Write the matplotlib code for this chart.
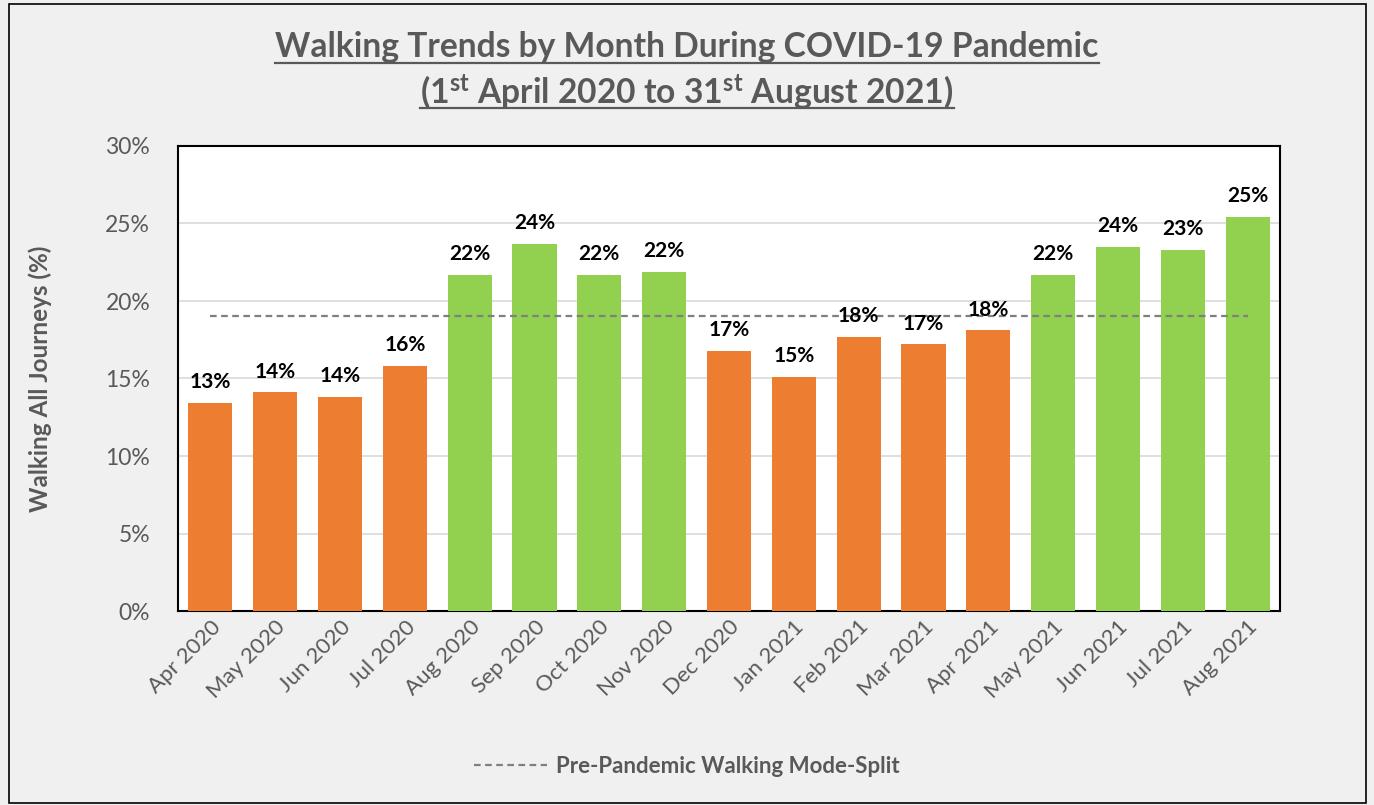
import matplotlib
matplotlib.use("Agg")
import matplotlib.pyplot as plt
from matplotlib.patches import Rectangle
from matplotlib.lines import Line2D
import numpy as np

months = ["Apr 2020", "May 2020", "Jun 2020", "Jul 2020", "Aug 2020", "Sep 2020",
          "Oct 2020", "Nov 2020", "Dec 2020", "Jan 2021", "Feb 2021", "Mar 2021",
          "Apr 2021", "May 2021", "Jun 2021", "Jul 2021", "Aug 2021"]
walking = [13.4, 14.1, 13.8, 15.8, 21.7, 23.7, 21.7, 21.9, 16.8, 15.1, 17.7, 17.2,
           18.1, 21.7, 23.5, 23.3, 25.4]
pre_pandemic = 19.0
above = [v >= pre_pandemic for v in walking]

FONT = "Lato"
GRAY = "#595959"
ORANGE = "#ED7D31"
GREEN = "#92D050"

plt.rcParams['font.family'] = [FONT, 'DejaVu Sans']
plt.rcParams['mathtext.fontset'] = 'custom'
plt.rcParams['mathtext.rm'] = 'Lato:bold'
plt.rcParams['mathtext.default'] = 'rm'

fig = plt.figure(figsize=(13.74, 8.05), dpi=100)
fig.patch.set_facecolor("#f0f0f0")
W, H = 1374, 805
ax = fig.add_axes([178 / W, 1 - 611 / H, (1280 - 178) / W, (611 - 146) / H])
ax.set_facecolor("white")

x = np.arange(len(months))
colors = [GREEN if a else ORANGE for a in above]
ax.bar(x, walking, width=0.68, color=colors, zorder=3)
ax.plot(x, [pre_pandemic] * len(x), linestyle=(0, (3, 2)), color="#7f7f7f", lw=1.6, zorder=4)

for xi, v in zip(x, walking):
    ax.text(xi, v + 0.7, f"{round(v):.0f}%", ha="center", va="bottom",
            fontsize=15, fontweight="bold", color="black", zorder=5)

ax.set_xlim(-0.5, len(months) - 0.5)
ax.set_ylim(0, 30)
ax.set_yticks(np.arange(0, 31, 5))
ax.set_yticklabels([f"{t}%" for t in range(0, 31, 5)], fontsize=16.5, color=GRAY)
ax.set_xticks(x)
ax.set_xticklabels(months, rotation=45, ha="right", rotation_mode="anchor",
                   fontsize=16, color=GRAY)
ax.tick_params(axis="y", length=0, pad=20)
ax.tick_params(axis="x", length=0, pad=4)
ax.grid(axis="y", color="#d9d9d9", lw=1.2, zorder=0)
for s in ax.spines.values():
    s.set_color("black")
    s.set_linewidth(1.5)

ax.set_ylabel("Walking All Journeys (%)", fontsize=17.5, fontweight="bold", color=GRAY)
ax.yaxis.set_label_coords((52 - 178) / (1280 - 178), 0.5)

t1 = fig.text(0.5, 1 - 47 / H, "Walking Trends by Month During COVID-19 Pandemic",
              ha="center", va="center", fontsize=24.2, fontweight="bold", color=GRAY)
t2 = fig.text(0.5, 1 - 92 / H, r"(1$^{st}$ April 2020 to 31$^{st}$ August 2021)",
              ha="center", va="center", fontsize=24.2, fontweight="bold", color=GRAY)

# legend
leg_handle = Line2D([0], [0], linestyle=(0, (3, 2)), color="#7f7f7f", lw=1.6)
fig.legend([leg_handle], ["Pre-Pandemic Walking Mode-Split"], loc="center",
           bbox_to_anchor=(0.5, 1 - 766 / H), frameon=False,
           prop={"family": FONT, "weight": "bold", "size": 16},
           labelcolor=GRAY, handlelength=3.3, handletextpad=0.4)

# figure border
fig.patches.append(Rectangle((9 / W, 2 / H), (1366 - 9) / W, (801 - 2) / H,
                             transform=fig.transFigure, fill=False,
                             edgecolor="black", lw=1.2))

# underline titles
fig.canvas.draw()
r = fig.canvas.get_renderer()
for t, y_pix in ((t1, 63), (t2, 108)):
    bb = t.get_window_extent(r)
    yy = 1 - y_pix / H
    fig.add_artist(Line2D([bb.x0 / W, bb.x1 / W], [yy, yy], transform=fig.transFigure,
                          color=GRAY, lw=1.6))

fig.savefig("out.png", dpi=100, facecolor=fig.get_facecolor())
